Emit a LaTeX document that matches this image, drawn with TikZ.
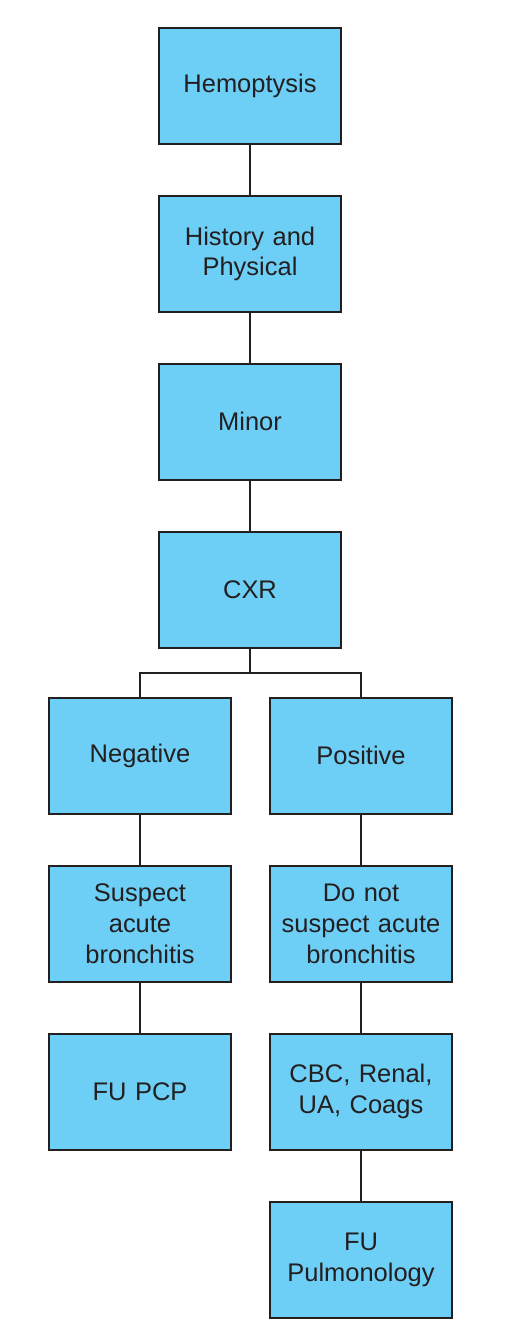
\documentclass[tikz,border=0pt]{standalone}
\usepackage{fontspec}
\setmainfont{Liberation Sans}
\usepackage{xcolor}
\usetikzlibrary{positioning}

\definecolor{boxblue}{RGB}{109,207,246}
\definecolor{boxline}{RGB}{35,31,32}

\begin{document}
\begin{tikzpicture}[
  node distance=1.0cm and 0.8cm,
  block/.style={rectangle, draw=boxline, line width=1.1pt, fill=boxblue, minimum width=3.64cm, minimum height=2.32cm, text width=3.4cm, text centered, font=\fontsize{14.5}{17.5}\selectfont, text=boxline},
  link/.style={draw=boxline, line width=1.1pt},
  every node/.style={align=center}
]
\useasboundingbox (0,0) rectangle (10.52,-26.76);

%% Main trunk
\node[block] (hemo) at (5.0,-1.72) {Hemoptysis};
\node[block, below=of hemo] (hist) {History and\\Physical};
\node[block, below=of hist] (minor) {Minor};
\node[block, below=of minor] (cxr) {CXR};

%% Left branch
\node[block, below=0.96cm of cxr, xshift=-2.2cm] (neg) {Negative};
\node[block, below=of neg] (susp) {Suspect\\acute\\bronchitis};
\node[block, below=of susp] (fupcp) {FU PCP};

%% Right branch
\node[block, below=0.96cm of cxr, xshift=2.22cm] (pos) {Positive};
\node[block, below=of pos] (nosusp) {Do not\\suspect acute\\bronchitis};
\node[block, below=of nosusp] (labs) {CBC, Renal,\\UA, Coags};
\node[block, below=of labs] (fupulm) {FU\\Pulmonology};

\coordinate[below=0.48cm of cxr] (split);

%% Connections
\draw[link] (hemo) -- (hist);
\draw[link] (hist) -- (minor);
\draw[link] (minor) -- (cxr);
\draw[link] (cxr) -- (split);
\draw[link] (split) -| (neg);
\draw[link] (split) -| (pos);

\draw[link] (neg) -- (susp);
\draw[link] (susp) -- (fupcp);

\draw[link] (pos) -- (nosusp);
\draw[link] (nosusp) -- (labs);
\draw[link] (labs) -- (fupulm);

\end{tikzpicture}
\end{document}
